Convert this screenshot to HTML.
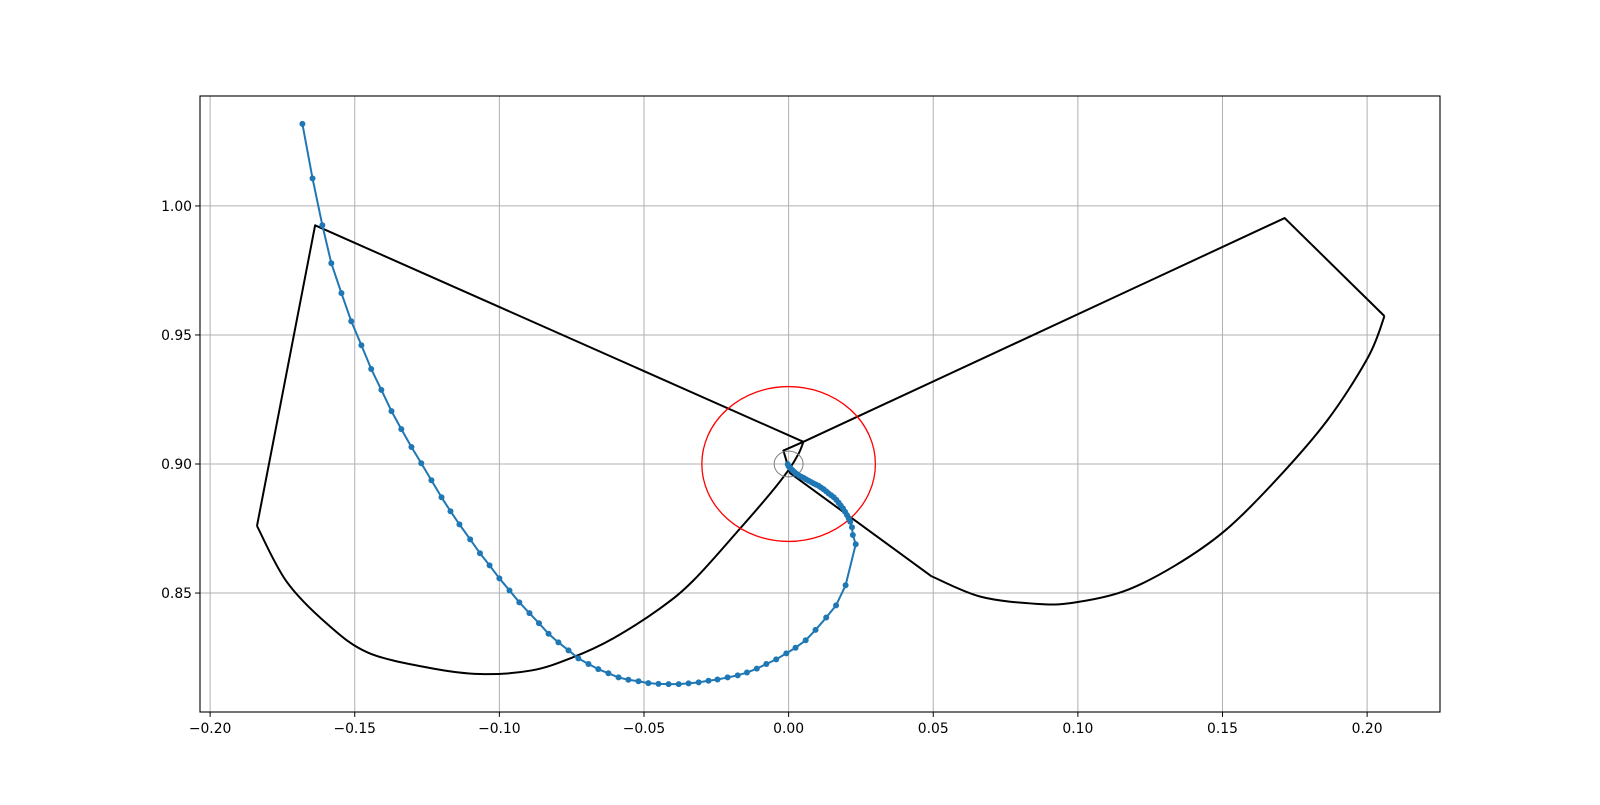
<!DOCTYPE html>
<html><head><meta charset="utf-8"><style>
body{margin:0;background:#fff;}
svg text{font-family:"DejaVu Sans","Liberation Sans",sans-serif;font-size:13.9px;fill:#000;}
</style></head><body>
<svg id="chart" width="1600" height="800" viewBox="0 0 1600 800" xmlns="http://www.w3.org/2000/svg">
<rect width="1600" height="800" fill="#fff"/>
<g id="grid"></g>
<g id="plot"></g>
<g id="axes"></g>
</svg>
<script>
const xTicks=[-0.20,-0.15,-0.10,-0.05,0.00,0.05,0.10,0.15,0.20];
const yTicks=[0.85,0.90,0.95,1.00];
const xTickLabels=["−0.20","−0.15","−0.10","−0.05","0.00","0.05","0.10","0.15","0.20"];
const yTickLabels=["0.85","0.90","0.95","1.00"];
const trajX=[-0.1681,-0.1646,-0.1612,-0.1581,-0.1546,-0.1512,-0.1477,-0.1443,-0.1408,-0.1373,-0.1339,-0.1304,-0.1270,-0.1235,-0.1200,-0.1169,-0.1138,-0.1101,-0.1067,-0.1034,-0.1000,-0.0965,-0.0931,-0.0896,-0.0863,-0.0830,-0.0796,-0.0761,-0.0727,-0.0692,-0.0658,-0.0623,-0.0588,-0.0554,-0.0519,-0.0485,-0.0450,-0.0415,-0.0380,-0.0346,-0.0311,-0.0277,-0.0246,-0.0211,-0.0176,-0.0144,-0.0110,-0.0077,-0.0043,-0.0008,0.0024,0.0059,0.0093,0.0130,0.0164,0.0197,0.0232,0.0222,0.0219,0.0213,0.0208,0.0202,0.0195,0.0188,0.0180,0.0173,0.0165,0.0156,0.0147,0.0138,0.0130,0.0121,0.0112,0.0104,0.0095,0.0086,0.0078,0.0069,0.0060,0.0052,0.0043,0.0035,0.0027,0.0020,0.0014,0.0008,0.0003,0.0000,-0.0003];
const trajY=[1.0318,1.0107,0.9925,0.9778,0.9662,0.9553,0.9460,0.9368,0.9287,0.9205,0.9135,0.9066,0.9003,0.8937,0.8871,0.8817,0.8766,0.8708,0.8654,0.8607,0.8557,0.8510,0.8464,0.8422,0.8383,0.8342,0.8309,0.8278,0.8247,0.8225,0.8205,0.8189,0.8173,0.8164,0.8158,0.8151,0.8148,0.8147,0.8147,0.8150,0.8154,0.8160,0.8165,0.8173,0.8181,0.8192,0.8207,0.8225,0.8243,0.8266,0.8288,0.8317,0.8357,0.8405,0.8452,0.8530,0.8689,0.8725,0.8755,0.8776,0.8789,0.8802,0.8815,0.8828,0.8839,0.8850,0.8861,0.8871,0.8879,0.8886,0.8894,0.8902,0.8909,0.8915,0.8920,0.8925,0.8930,0.8935,0.8941,0.8946,0.8951,0.8956,0.8962,0.8969,0.8975,0.8982,0.8987,0.8992,0.8999];
// left shape: straight edges then smooth arc
const leftEdgeX=[-0.1838,-0.1637,0.0051];
const leftEdgeY=[0.8760,0.9925,0.9086];
const leftArcX=[-0.1838,-0.1736,-0.1595,-0.1454,-0.1242,-0.1066,-0.0889,-0.0748,-0.0607,-0.0444,-0.0328,-0.0167,-0.0063,0.0000,0.0035,0.0051];
const leftArcY=[0.8760,0.8545,0.8380,0.8269,0.8210,0.8186,0.8200,0.8250,0.8324,0.8441,0.8550,0.8751,0.8886,0.8977,0.9041,0.9086];
// right shape
const rightEdgeX=[0.0494,0.0005,-0.0018,0.0051,0.1715,0.2060];
const rightEdgeY=[0.8565,0.8965,0.9052,0.9086,0.9953,0.9573];
const rightArcX=[0.2060,0.2004,0.1863,0.1687,0.1510,0.1334,0.1157,0.0981,0.0857,0.0663,0.0494];
const rightArcY=[0.9573,0.9415,0.9170,0.8940,0.8743,0.8605,0.8506,0.8462,0.8458,0.8486,0.8565];
const circleCenter=[0.0,0.9];
const bigRadius=[0.03];
const smallRadius=[0.005];

const L=200,R=1440,T=96,B=712;
const X0=-0.2035,X1=0.2252,Y0=0.8039,Y1=1.0426;
const sx=v=>L+(v-X0)/(X1-X0)*(R-L);
const sy=v=>B-(v-Y0)/(Y1-Y0)*(B-T);
const NS="http://www.w3.org/2000/svg";
function mk(tag,parent,attrs){const e=document.createElementNS(NS,tag);for(const k in attrs)e.setAttribute(k,attrs[k]);parent.appendChild(e);return e;}
const grid=document.getElementById('grid'),plot=document.getElementById('plot'),axes=document.getElementById('axes');

xTicks.forEach((t,i)=>{
  const l=mk('line',grid,{x1:sx(t),x2:sx(t),y1:T,y2:B,stroke:'#b0b0b0','stroke-width':1});
  
  
  const tk=mk('line',axes,{x1:sx(t),x2:sx(t),y1:B,y2:B+4.9,stroke:'#000','stroke-width':1});
  
  
  const tx=mk('text',axes,{x:sx(t),y:B+21,'text-anchor':'middle'});
  tx.textContent=xTickLabels[i];
  
  
});
yTicks.forEach((t,i)=>{
  const l=mk('line',grid,{x1:L,x2:R,y1:sy(t),y2:sy(t),stroke:'#b0b0b0','stroke-width':1});
  
  
  const tk=mk('line',axes,{x1:L-4.9,x2:L,y1:sy(t),y2:sy(t),stroke:'#000','stroke-width':1});
  
  
  const tx=mk('text',axes,{x:L-8,y:sy(t)+5,'text-anchor':'end'});
  tx.textContent=yTickLabels[i];
  
  
});
function poly(xs,ys){return xs.map((x,i)=>sx(x).toFixed(2)+','+sy(ys[i]).toFixed(2)).join(' ');}
function smooth(xs,ys){
  const p=xs.map((x,i)=>[sx(x),sy(ys[i])]);
  let d='M'+p[0][0].toFixed(2)+','+p[0][1].toFixed(2);
  for(let i=0;i<p.length-1;i++){
    const p0=p[Math.max(0,i-1)],p1=p[i],p2=p[i+1],p3=p[Math.min(p.length-1,i+2)];
    const c1=[p1[0]+(p2[0]-p0[0])/6,p1[1]+(p2[1]-p0[1])/6];
    const c2=[p2[0]-(p3[0]-p1[0])/6,p2[1]-(p3[1]-p1[1])/6];
    d+=' C'+c1[0].toFixed(2)+','+c1[1].toFixed(2)+' '+c2[0].toFixed(2)+','+c2[1].toFixed(2)+' '+p2[0].toFixed(2)+','+p2[1].toFixed(2);
  }
  return d;
}
const le=mk('polyline',plot,{points:poly(leftEdgeX,leftEdgeY),fill:'none',stroke:'#000','stroke-width':2,'stroke-linejoin':'round'});


const la=mk('path',plot,{d:smooth(leftArcX,leftArcY),fill:'none',stroke:'#000','stroke-width':2});


const re=mk('polyline',plot,{points:poly(rightEdgeX,rightEdgeY),fill:'none',stroke:'#000','stroke-width':2,'stroke-linejoin':'round'});


const ra=mk('path',plot,{d:smooth(rightArcX,rightArcY),fill:'none',stroke:'#000','stroke-width':2});


const rc=mk('ellipse',plot,{cx:sx(circleCenter[0]),cy:sy(circleCenter[1]),rx:sx(bigRadius[0])-sx(0),ry:sy(circleCenter[1])-sy(circleCenter[1]+bigRadius[0]),fill:'none',stroke:'#ff0000','stroke-width':1.3});


const gc=mk('ellipse',plot,{cx:sx(circleCenter[0]),cy:sy(circleCenter[1]),rx:sx(smallRadius[0])-sx(0),ry:sy(circleCenter[1])-sy(circleCenter[1]+smallRadius[0]),fill:'none',stroke:'#808080','stroke-width':1});


const tl=mk('polyline',plot,{points:poly(trajX,trajY),fill:'none',stroke:'#1f77b4','stroke-width':2,'stroke-linejoin':'round'});


trajX.forEach((x,i)=>{
  const c=mk('circle',plot,{cx:sx(x),cy:sy(trajY[i]),r:3,fill:'#1f77b4'});
  
  
});
const fr=mk('rect',axes,{x:L,y:T,width:R-L,height:B-T,fill:'none',stroke:'#000','stroke-width':1.1});


</script>
</body></html>
